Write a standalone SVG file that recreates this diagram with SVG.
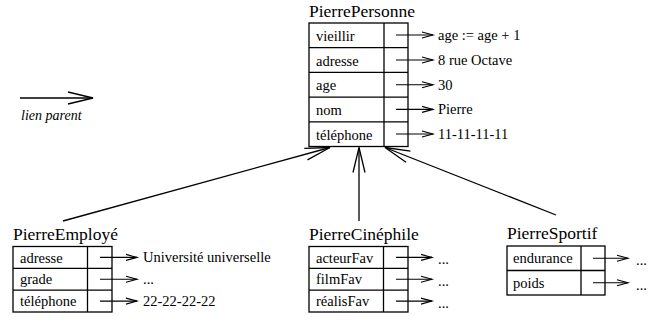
<svg xmlns="http://www.w3.org/2000/svg" width="649" height="322" viewBox="0 0 649 322">
  <style>
    .box { fill: #fff; stroke: #000; stroke-width: 1.3; }
    .sep { stroke: #000; stroke-width: 1.3; fill: none; }
    .title { font-family: "Liberation Serif", "Times New Roman", serif; font-size: 17.5px; fill: #000; }
    .slot { font-family: "Liberation Serif", "Times New Roman", serif; font-size: 14.5px; fill: #000; }
    .val { font-family: "Liberation Serif", "Times New Roman", serif; font-size: 14.5px; fill: #000; }
    .legend { font-family: "Liberation Serif", "Times New Roman", serif; font-size: 14px; font-style: italic; fill: #000; }
    .ptr { stroke: #000; stroke-width: 1.1; fill: none; marker-end: url(#small); }
    .link { stroke: #000; stroke-width: 1.3; fill: none; marker-end: url(#big); }
  </style>
  <defs>
    <marker id="small" markerUnits="userSpaceOnUse" viewBox="-12 -4 14 8" refX="0" refY="0" markerWidth="14" markerHeight="8" orient="auto" overflow="visible">
      <path d="M -11 -3 L 0 0 L -11 3" fill="none" stroke="#000" stroke-width="1.1"/>
    </marker>
    <marker id="big" markerUnits="userSpaceOnUse" viewBox="-26 -7 28 14" refX="0" refY="0" markerWidth="28" markerHeight="14" orient="auto" overflow="visible">
      <path d="M -25 -6 L 0 0 L -25 6" fill="none" stroke="#000" stroke-width="1.3"/>
    </marker>
  </defs>

  <!-- legend -->
  <g id="legend">
    <line class="link" x1="20" y1="98" x2="93" y2="98"/>
    <text class="legend" x="21" y="120">lien parent</text>
  </g>

  <!-- parent object -->
  <g id="PierrePersonne">
    <text class="title" x="309" y="17">PierrePersonne</text>
    <rect class="box" x="309" y="23" width="99" height="123.5"/>
    <line class="sep" x1="384" y1="23" x2="384" y2="146.5"/>
    <line class="sep" x1="309" y1="47.7" x2="408" y2="47.7"/>
    <line class="sep" x1="309" y1="72.4" x2="408" y2="72.4"/>
    <line class="sep" x1="309" y1="97.1" x2="408" y2="97.1"/>
    <line class="sep" x1="309" y1="121.8" x2="408" y2="121.8"/>
    <text class="slot" x="316" y="41">vieillir</text>
    <text class="slot" x="316" y="65.6">adresse</text>
    <text class="slot" x="316" y="90.3">age</text>
    <text class="slot" x="316" y="115">nom</text>
    <text class="slot" x="316" y="139.7">téléphone</text>
    <line class="ptr" x1="396" y1="35" x2="433" y2="35"/>
    <line class="ptr" x1="396" y1="60" x2="433" y2="60"/>
    <line class="ptr" x1="396" y1="84.7" x2="433" y2="84.7"/>
    <line class="ptr" x1="396" y1="109.4" x2="433" y2="109.4"/>
    <line class="ptr" x1="396" y1="134" x2="433" y2="134"/>
    <text class="val" x="438" y="40">age := age + 1</text>
    <text class="val" x="438" y="65">8 rue Octave</text>
    <text class="val" x="438" y="89.7">30</text>
    <text class="val" x="438" y="114.4">Pierre</text>
    <text class="val" x="438" y="139">11-11-11-11</text>
  </g>

  <!-- child objects -->
  <g id="PierreEmploye">
    <text class="title" x="13" y="240">PierreEmployé</text>
    <rect class="box" x="13" y="246.5" width="99" height="65.5"/>
    <line class="sep" x1="87.5" y1="246.5" x2="87.5" y2="312"/>
    <line class="sep" x1="13" y1="268.3" x2="112" y2="268.3"/>
    <line class="sep" x1="13" y1="290.2" x2="112" y2="290.2"/>
    <text class="slot" x="20" y="262.5">adresse</text>
    <text class="slot" x="20" y="284.3">grade</text>
    <text class="slot" x="20" y="306.2">téléphone</text>
    <line class="ptr" x1="100" y1="257.4" x2="137" y2="257.4"/>
    <line class="ptr" x1="100" y1="279.3" x2="137" y2="279.3"/>
    <line class="ptr" x1="100" y1="301.1" x2="137" y2="301.1"/>
    <text class="val" x="143" y="262.4">Université universelle</text>
    <text class="val" x="143" y="284.3">...</text>
    <text class="val" x="143" y="306.1">22-22-22-22</text>
  </g>

  <g id="PierreCinephile">
    <text class="title" x="309" y="240">PierreCinéphile</text>
    <rect class="box" x="309" y="246.5" width="99" height="65.5"/>
    <line class="sep" x1="383.5" y1="246.5" x2="383.5" y2="312"/>
    <line class="sep" x1="309" y1="268.3" x2="408" y2="268.3"/>
    <line class="sep" x1="309" y1="290.2" x2="408" y2="290.2"/>
    <text class="slot" x="316" y="262.5">acteurFav</text>
    <text class="slot" x="316" y="284.3">filmFav</text>
    <text class="slot" x="316" y="306.2">réalisFav</text>
    <line class="ptr" x1="396" y1="257.4" x2="432" y2="257.4"/>
    <line class="ptr" x1="396" y1="279.3" x2="432" y2="279.3"/>
    <line class="ptr" x1="396" y1="301.1" x2="432" y2="301.1"/>
    <text class="val" x="438" y="264">...</text>
    <text class="val" x="438" y="286">...</text>
    <text class="val" x="438" y="308">...</text>
  </g>

  <g id="PierreSportif">
    <text class="title" x="507" y="239">PierreSportif</text>
    <rect class="box" x="507" y="246" width="98" height="49"/>
    <line class="sep" x1="581" y1="246" x2="581" y2="295"/>
    <line class="sep" x1="507" y1="270.5" x2="605" y2="270.5"/>
    <text class="slot" x="513" y="263.3">endurance</text>
    <text class="slot" x="513" y="287.8">poids</text>
    <line class="ptr" x1="593" y1="258.3" x2="628" y2="258.3"/>
    <line class="ptr" x1="593" y1="282.8" x2="628" y2="282.8"/>
    <text class="val" x="636" y="265">...</text>
    <text class="val" x="636" y="289.5">...</text>
  </g>

  <!-- parent links -->
  <g id="connectors">
    <line class="link" x1="63" y1="221" x2="330" y2="147.5"/>
    <line class="link" x1="359" y1="221" x2="359" y2="147.5"/>
    <line class="link" x1="556" y1="215" x2="385" y2="147.5"/>
  </g>
</svg>
